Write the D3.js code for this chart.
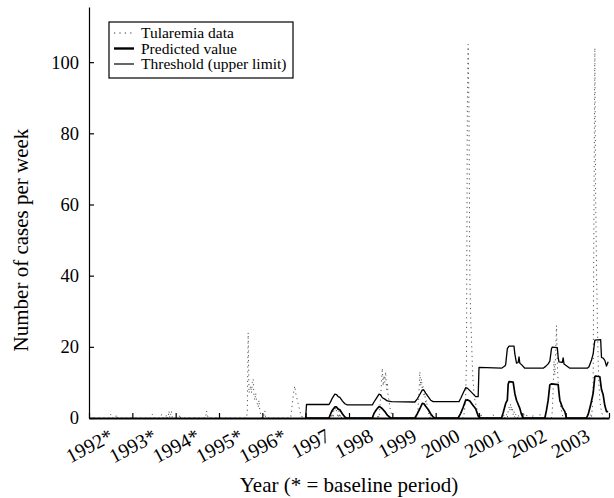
<!DOCTYPE html>
<html>
<head>
<meta charset="utf-8">
<script src="https://cdn.jsdelivr.net/npm/d3@7"></script>
<style>
  html, body { margin: 0; padding: 0; background: #fff; }
  svg { display: block; }
  text { font-family: "Liberation Serif", "DejaVu Serif", serif; fill: #000; }
</style>
</head>
<body>
<svg id="chart" width="614" height="498"></svg>
<script>
// ---- Data ----
const firstYear = 1992;
const yearLabels = ["1992*", "1993*", "1994*", "1995*", "1996*", "1997", "1998", "1999", "2000", "2001", "2002", "2003"];
const yTickValues = [0, 20, 40, 60, 80, 100];
const weeksPerYear = 52;

// Tularemia weekly case counts: non-zero weeks only [year, week, cases]
const tularemiaCases = [
  [1992, 26, 1], [1992, 33, 1],
  [1993, 24, 1], [1993, 35, 1], [1993, 41, 1], [1993, 44, 2], [1993, 46, 1], [1993, 47, 2],
  [1994, 5, 1], [1994, 37, 2], [1994, 38, 1],
  [1995, 34, 2], [1995, 35, 24], [1995, 36, 7], [1995, 37, 8], [1995, 38, 9], [1995, 39, 7], [1995, 40, 10],
  [1995, 41, 11], [1995, 42, 6], [1995, 43, 5], [1995, 44, 7], [1995, 45, 5], [1995, 46, 4], [1995, 47, 3],
  [1995, 48, 5], [1995, 49, 2], [1995, 50, 1],
  [1996, 2, 1], [1996, 3, 2],
  [1996, 35, 2], [1996, 36, 4], [1996, 37, 6], [1996, 38, 8], [1996, 39, 9], [1996, 40, 7], [1996, 41, 6],
  [1996, 42, 5], [1996, 43, 4], [1996, 44, 3], [1996, 45, 2], [1996, 46, 1], [1996, 47, 1],
  [1997, 30, 1], [1997, 32, 2], [1997, 34, 3], [1997, 35, 2], [1997, 36, 3], [1997, 37, 2], [1997, 38, 1],
  [1997, 40, 2], [1997, 42, 1], [1997, 45, 1],
  [1998, 35, 1], [1998, 37, 3], [1998, 38, 6], [1998, 39, 10], [1998, 40, 14], [1998, 41, 9], [1998, 42, 12],
  [1998, 43, 10], [1998, 44, 13], [1998, 45, 8], [1998, 46, 10], [1998, 47, 6], [1998, 48, 5], [1998, 49, 3],
  [1998, 50, 2], [1998, 51, 1],
  [1999, 30, 1], [1999, 31, 3], [1999, 32, 7], [1999, 33, 13], [1999, 34, 9], [1999, 35, 11], [1999, 36, 8],
  [1999, 37, 9], [1999, 38, 6], [1999, 39, 7], [1999, 40, 4], [1999, 41, 5], [1999, 42, 3], [1999, 43, 2],
  [1999, 44, 1], [1999, 46, 1],
  [2000, 34, 1], [2000, 35, 3], [2000, 36, 6], [2000, 37, 17], [2000, 38, 87], [2000, 39, 105], [2000, 40, 86],
  [2000, 41, 40], [2000, 42, 28], [2000, 43, 22], [2000, 44, 15], [2000, 45, 10], [2000, 46, 7], [2000, 47, 5],
  [2000, 48, 4], [2000, 49, 3], [2000, 50, 2], [2000, 51, 1],
  [2001, 1, 1], [2001, 3, 1], [2001, 17, 1], [2001, 30, 1], [2001, 33, 1], [2001, 35, 2], [2001, 36, 3],
  [2001, 37, 2], [2001, 38, 4], [2001, 39, 2], [2001, 40, 3], [2001, 41, 1], [2001, 42, 2], [2001, 44, 1],
  [2001, 47, 1],
  [2002, 2, 1], [2002, 5, 1], [2002, 13, 1], [2002, 21, 1],
  [2002, 36, 2], [2002, 37, 8], [2002, 38, 16], [2002, 39, 12], [2002, 40, 18], [2002, 41, 26], [2002, 42, 15],
  [2002, 43, 10], [2002, 44, 7], [2002, 45, 5], [2002, 46, 3], [2002, 47, 2], [2002, 48, 1],
  [2003, 30, 1], [2003, 32, 3], [2003, 33, 10], [2003, 34, 60], [2003, 35, 104], [2003, 36, 62], [2003, 37, 42],
  [2003, 38, 28], [2003, 39, 16], [2003, 40, 9], [2003, 41, 5], [2003, 42, 3], [2003, 43, 2], [2003, 44, 1]
];

// Predicted value [year, week, value]
const predictedValue = [
  [1997, 0, 0], [1997, 28, 0], [1997, 30, 1.2], [1997, 32, 2.2], [1997, 35, 3.1], [1997, 37, 3.1], [1997, 39, 2.5],
  [1997, 41, 2.3], [1997, 44, 1.2], [1997, 47, 0.3], [1997, 49, 0],
  [1998, 28, 0], [1998, 30, 1.3], [1998, 33, 2.4], [1998, 36, 3.2], [1998, 38, 3.0], [1998, 40, 2.6],
  [1998, 43, 1.8], [1998, 46, 0.8], [1998, 50, 0],
  [1999, 27, 0], [1999, 30, 1.2], [1999, 33, 2.6], [1999, 36, 4.1], [1999, 38, 4.0], [1999, 40, 3.3],
  [1999, 43, 2.4], [1999, 46, 1.2], [1999, 49, 0.3], [1999, 51, 0],
  [2000, 27, 0], [2000, 30, 1.3], [2000, 33, 3.0], [2000, 36, 5.0], [2000, 38, 5.1], [2000, 41, 4.8],
  [2000, 44, 3.8], [2000, 48, 2.6], [2000, 51, 0.6],
  [2001, 1, 0], [2001, 27, 0], [2001, 29, 1.5], [2001, 32, 4.1], [2001, 34, 5.0], [2001, 35, 9.5], [2001, 36, 10.2],
  [2001, 41, 10.1], [2001, 43, 6.9], [2001, 45, 5.0], [2001, 49, 2.7], [2001, 51, 1.0],
  [2002, 1, 0], [2002, 27, 0], [2002, 29, 2.2], [2002, 31, 5.0], [2002, 33, 9.3], [2002, 35, 9.6], [2002, 43, 9.4],
  [2002, 44, 7.0], [2002, 45, 5.0], [2002, 48, 3.0], [2002, 51, 1.8],
  [2003, 1, 0], [2003, 25, 0], [2003, 27, 1.0], [2003, 30, 3.7], [2003, 33, 7.0], [2003, 35, 11.6], [2003, 36, 11.8],
  [2003, 41, 11.6], [2003, 43, 8.0], [2003, 45, 6.5], [2003, 47, 3.5], [2003, 49, 1.8], [2003, 51, 1.8]
];

// Threshold (upper limit) [year, week, value]
const thresholdValue = [
  [1997, 0, 0], [1997, 1, 3.8], [1997, 28, 3.8], [1997, 30, 4.6], [1997, 32, 5.6], [1997, 35, 6.7], [1997, 37, 6.6],
  [1997, 39, 6.0], [1997, 41, 5.8], [1997, 44, 4.8], [1997, 47, 4.0], [1997, 50, 3.7],
  [1998, 28, 3.7], [1998, 30, 4.5], [1998, 33, 5.6], [1998, 36, 6.7], [1998, 38, 6.5], [1998, 40, 5.7],
  [1998, 43, 5.3], [1998, 46, 4.8], [1998, 51, 4.6],
  [1999, 27, 4.5], [1999, 30, 5.4], [1999, 33, 6.6], [1999, 36, 7.9], [1999, 38, 7.8], [1999, 40, 7.0],
  [1999, 43, 6.0], [1999, 46, 5.0], [1999, 49, 4.6],
  [2000, 28, 4.6], [2000, 30, 5.5], [2000, 33, 7.0], [2000, 36, 8.5], [2000, 38, 8.4], [2000, 41, 7.7],
  [2000, 44, 7.0], [2000, 48, 6.0], [2000, 51, 6.0],
  [2001, 0, 14.2], [2001, 27, 14.0], [2001, 31, 14.6], [2001, 32, 15.0], [2001, 34, 19.5], [2001, 36, 20.2],
  [2001, 42, 20.2], [2001, 43, 18.0], [2001, 45, 15.4], [2001, 47, 15.6], [2001, 48, 17.2], [2001, 49, 15.4],
  [2001, 51, 15.0],
  [2002, 3, 14.0], [2002, 25, 14.0], [2002, 28, 14.5], [2002, 31, 15.2], [2002, 33, 16.0], [2002, 35, 19.5],
  [2002, 36, 19.9], [2002, 42, 19.8], [2002, 43, 17.0], [2002, 44, 15.8], [2002, 48, 15.6], [2002, 49, 16.9],
  [2002, 50, 15.2],
  [2003, 5, 14.0], [2003, 26, 14.0], [2003, 28, 14.4], [2003, 31, 16.3], [2003, 33, 18.0], [2003, 35, 21.9],
  [2003, 42, 22.0], [2003, 43, 17.0], [2003, 45, 16.8], [2003, 47, 16.2], [2003, 49, 14.6], [2003, 51, 15.8]
];

const legendLabels = ["Tularemia data", "Predicted value", "Threshold (upper limit)"];

// ---- Build ----
const nWeeks = yearLabels.length * weeksPerYear;
const absWeek = (yr, wk) => (yr - firstYear) * weeksPerYear + wk;

const weeklyCases = Array.from({length: nWeeks}, (_, i) => ({w: i, v: 0}));
tularemiaCases.forEach(([yr, wk, c]) => { weeklyCases[absWeek(yr, wk)].v = c; });
const predPts = predictedValue.map(([yr, wk, v]) => ({w: absWeek(yr, wk), v}));
const thrPts = thresholdValue.map(([yr, wk, v]) => ({w: absWeek(yr, wk), v}));

const svg = d3.select("#chart");
const x = d3.scaleLinear().domain([0, nWeeks]).range([89, 609]);
const y = d3.scaleLinear().domain([0, 115.5]).range([418, 7]);

const line = d3.line().x(d => x(d.w)).y(d => y(d.v));

svg.append("path").datum(weeklyCases)
  .attr("d", line).attr("fill", "none")
  .attr("stroke", "#555").attr("stroke-width", 1)
  .attr("stroke-dasharray", "1.2 3.6");

svg.append("path").datum(thrPts)
  .attr("d", line).attr("fill", "none")
  .attr("stroke", "#000").attr("stroke-width", 1.3)
  .attr("stroke-linejoin", "round");

svg.append("path").datum(predPts)
  .attr("d", line).attr("fill", "none")
  .attr("stroke", "#000").attr("stroke-width", 1.7)
  .attr("stroke-linejoin", "round");

// Axes
const yAxis = svg.append("g").attr("transform", `translate(${x(0)},0)`)
  .call(d3.axisLeft(y).tickValues(yTickValues).tickSizeInner(-5).tickSizeOuter(0).tickPadding(10));
yAxis.attr("font-family", null).attr("font-size", null);
yAxis.select(".domain").attr("stroke-width", 1.2);
yAxis.selectAll(".tick line").attr("stroke-width", 1.2);
yAxis.selectAll("text").style("font-size", "18.5px").style("font-family", "'Liberation Serif', serif");

const yearStarts = d3.range(0, yearLabels.length + 1).map(i => i * weeksPerYear);
const xAxis = svg.append("g").attr("transform", `translate(0,${y(0)})`)
  .call(d3.axisBottom(x).tickValues(yearStarts).tickSizeInner(-5).tickSizeOuter(0).tickFormat(""));
xAxis.select(".domain").attr("stroke-width", 1.8);
xAxis.selectAll(".tick line").attr("stroke-width", 1.2);

// Rotated year labels at mid-year
svg.append("g").selectAll("text").data(yearLabels).join("text")
  .attr("transform", (d, i) => `translate(${x(i * weeksPerYear + weeksPerYear / 2) + 4},440) rotate(-28)`)
  .attr("text-anchor", "end")
  .style("font-size", "20px")
  .text(d => d);

// Axis titles
svg.append("text")
  .attr("transform", "translate(28,240) rotate(-90)")
  .attr("text-anchor", "middle")
  .style("font-size", "21px")
  .text("Number of cases per week");

svg.append("text")
  .attr("x", 349).attr("y", 492)
  .attr("text-anchor", "middle")
  .style("font-size", "21px")
  .text("Year (* = baseline period)");

// Legend
const lg = svg.append("g");
lg.append("rect").attr("x", 109).attr("y", 22).attr("width", 184).attr("height", 56)
  .attr("fill", "#fff").attr("stroke", "#000").attr("stroke-width", 1.2);
const rowY = [33, 48.5, 64];
const sampleStyles = [
  {w: 1.2, dash: "1.2 4.2", c: "#333"},
  {w: 2.4, dash: null, c: "#000"},
  {w: 1.2, dash: null, c: "#000"}
];
legendLabels.forEach((lab, i) => {
  const l = lg.append("line").attr("x1", 114).attr("x2", 134).attr("y1", rowY[i]).attr("y2", rowY[i])
    .attr("stroke", sampleStyles[i].c).attr("stroke-width", sampleStyles[i].w);
  if (sampleStyles[i].dash) l.attr("stroke-dasharray", sampleStyles[i].dash);
  lg.append("text").attr("x", 141).attr("y", rowY[i]).attr("dy", "0.35em")
    .style("font-size", "15.5px").text(lab);
});
</script>
</body>
</html>
